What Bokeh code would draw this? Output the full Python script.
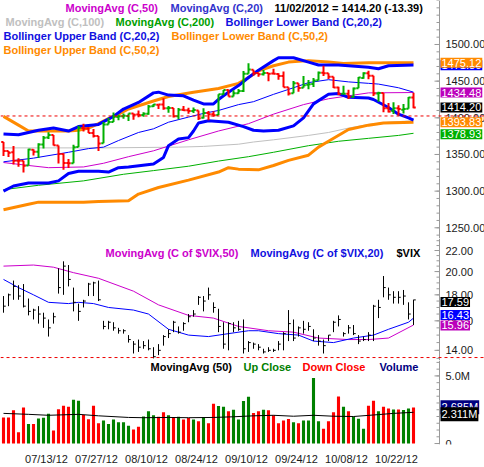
from bokeh.plotting import figure
from bokeh.layouts import column
from bokeh.models import Range1d, FixedTicker, Label, Span
from bokeh.core.properties import value
from bokeh.embed import file_html
from bokeh.resources import INLINE

# ---------------- data ----------------
prev_close = 1367.58
opens = [1367.09,1354.66,1352.96,1341.40,1341.40,1334.81,1356.50,1353.69,1363.46,1373.01,
         1376.51,1362.34,1350.52,1338.35,1338.17,1360.05,1385.94,1385.27,1379.32,1375.13,
         1365.45,1391.04,1394.46,1401.23,1402.26,1402.58,1405.87,1404.36,1403.89,1405.56,
         1415.84,1417.85,1418.13,1413.09,1413.49,1401.99,1411.13,1410.44,1409.32,1410.08,
         1400.07,1406.54,1404.94,1403.74,1432.12,1437.92,1429.13,1433.56,1436.56,1460.07,
         1465.42,1461.19,1459.50,1461.05,1460.34,1459.76,1456.94,1441.60,1433.36,1447.13,
         1440.90,1444.99,1446.05,1451.08,1461.40,1460.93,1455.90,1441.48,1432.82,1432.84,
         1428.75,1440.31,1454.22,1460.94,1457.34,1433.21,1433.74,1413.20,1409.74,1412.97,
         1410.99,1412.20,1427.59]
highs = [1367.10,1354.87,1361.54,1345.00,1341.40,1357.70,1357.26,1365.36,1375.26,1380.39,
         1376.51,1362.34,1351.53,1343.98,1363.13,1389.19,1391.74,1387.16,1384.87,1375.13,
         1394.16,1399.63,1407.14,1404.14,1405.95,1405.98,1405.87,1410.03,1407.73,1417.44,
         1418.71,1418.13,1426.68,1416.12,1413.49,1413.46,1416.17,1413.63,1413.95,1410.08,
         1413.09,1409.31,1408.81,1432.12,1437.92,1438.74,1437.76,1439.15,1463.76,1474.51,
         1465.63,1461.47,1465.15,1461.23,1467.07,1460.72,1463.24,1441.60,1450.20,1447.13,
         1457.14,1451.52,1454.30,1463.14,1470.96,1460.93,1455.90,1442.45,1443.90,1438.43,
         1441.31,1455.51,1462.20,1464.02,1457.34,1435.46,1433.74,1420.04,1421.13,1417.09,
         1418.76,1428.35,1434.27]
lows = [1348.03,1346.65,1336.30,1333.25,1325.41,1334.81,1348.51,1345.07,1358.04,1371.21,
        1362.19,1337.56,1329.24,1331.50,1338.17,1360.05,1381.37,1379.17,1373.07,1354.65,
        1365.45,1391.04,1394.46,1396.56,1398.80,1395.62,1397.32,1400.60,1401.56,1404.14,
        1414.68,1412.07,1410.86,1406.78,1400.50,1398.04,1409.13,1405.59,1406.63,1397.01,
        1398.96,1396.56,1401.30,1403.74,1431.54,1428.98,1429.13,1432.99,1435.31,1460.07,
        1457.55,1456.13,1457.88,1449.98,1459.51,1452.06,1441.58,1430.53,1433.36,1435.56,
        1440.90,1439.01,1441.99,1451.08,1456.89,1453.10,1440.81,1430.64,1432.82,1425.53,
        1427.24,1440.31,1453.33,1452.64,1429.85,1422.06,1407.56,1407.10,1405.14,1403.28,
        1405.95,1412.20,1412.91]
closes = [1354.68,1352.46,1341.47,1341.45,1334.76,1356.78,1353.64,1363.67,1372.78,1376.51,
          1362.66,1350.52,1338.31,1337.89,1360.02,1385.97,1385.30,1379.32,1375.14,1365.00,
          1390.99,1394.23,1401.35,1402.22,1402.80,1405.87,1404.11,1403.93,1405.53,1415.51,
          1418.16,1418.13,1413.17,1413.49,1402.08,1411.13,1410.44,1409.30,1410.49,1399.48,
          1406.58,1404.94,1403.44,1432.12,1437.92,1429.08,1433.56,1436.56,1459.99,1465.77,
          1461.19,1459.32,1461.05,1460.26,1460.15,1456.89,1441.59,1433.32,1447.15,1440.67,
          1444.49,1445.75,1450.99,1461.40,1460.93,1455.88,1441.48,1432.56,1432.84,1428.59,
          1440.13,1454.92,1460.91,1457.34,1433.19,1433.82,1413.11,1408.75,1412.97,1411.94,
          1412.16,1427.59,1414.20]

bb20u_i = [0,3,7,10,13,15,19,22,24,27,30,31,33,36,38,40,42,43,45,47,49,51,54,55,58,61,63,67,71,73,75,77,82]
bb20u_v = [1378,1377,1383,1386,1382,1388,1391,1402,1412,1421,1434,1435,1431,1430,1424,1419,1419,1425,1435,1444,1455,1465,1478,1482,1482,1476,1472,1472,1470,1469,1467,1471,1472]
bb20l_i = [0,2,5,9,11,13,15,19,21,23,25,30,32,33,35,37,38,39,41,45,48,50,52,55,58,60,62,65,67,69,73,74,77,79,81,82]
bb20l_v = [1300,1307,1311,1311,1314,1324,1327,1327,1326,1332,1333,1337,1346,1362,1371,1373,1382,1393,1396,1394,1388,1383,1382,1383,1389,1400,1419,1432,1433,1428,1427,1425,1414,1405,1400,1397]
ma20_i = [0,6,13,17,20,23,27,30,33,37,40,43,47,50,54,58,61,65,69,73,75,79,82]
ma20_v = [1340,1345,1353,1358,1360,1369,1380,1385,1394,1401,1406,1410,1418,1422,1432,1441,1448,1452,1449,1447,1446,1441,1435]
ma50_i = [0,5,9,16,20,25,30,37,43,49,54,60,65,69,73,82]
ma50_v = [1339,1335,1332,1333,1338,1347,1355,1370,1382,1392,1405,1418,1426,1430,1434,1434.5]
ma100_i = [0,20,35,40,47,50,54,61,65,69,73,77,82]
ma100_v = [1359,1359,1360,1361,1364,1367,1370,1376,1380,1386,1391,1394,1396]
ma200_i = [0,7,16,24,30,37,43,49,54,61,67,73,79,82]
ma200_v = [1302,1308,1314,1323,1328,1334,1341,1347,1353,1362,1368,1372,1376,1378.9]
bb50u_i = [0,3,5,13,15,17,19,21,23,25,30,33,38,43,47,49,51,54,57,61,65,68,73,82]
bb50u_v = [1402,1390,1382,1382,1383,1386,1392,1399,1405,1412,1423,1429,1435,1440,1447,1455,1464,1471,1476,1478,1476,1474,1475,1475.1]
bb50l_i = [0,5,7,16,19,25,27,31,37,43,45,47,51,54,57,61,63,65,69,73,76,82]
bb50l_v = [1274.5,1282,1285,1285,1286,1287,1296,1305,1315,1326,1332,1330,1329,1335,1342,1349,1360,1368,1384,1390,1393,1393.8]
support_level = 1402.5
price_ticks = [1250, 1300, 1350, 1400, 1450, 1500]
price_tick_labels = ["1250.00", "1300.00", "1350.00", "1400.00", "1450.00", "1500.00"]
price_last = [1471.80, 1475.12, 1434.48, 1414.20, 1393.83, 1378.93]
price_last_text = ["1471.80", "1475.12", "1434.48", "1414.20", "1393.83", "1378.93"]

vix_high = [17.9,18.1,19.2,18.8,18.9,17.7,16.9,17.1,16.6,16.1,
            16.6,20.3,20.95,20.6,18.6,17.3,17.6,19.0,19.1,19.2,
            16.0,16.0,15.9,15.5,15.4,15.0,14.6,14.7,14.6,14.7,
            14.2,14.4,15.0,15.4,16.0,15.6,15.9,16.5,16.8,17.9,
            17.9,18.6,17.4,16.9,15.9,15.9,15.9,16.0,16.1,14.6,
            14.5,14.4,14.1,14.2,14.1,14.6,15.2,16.8,16.1,15.6,
            16.0,15.9,15.4,15.0,14.7,15.0,16.0,16.4,15.2,15.7,
            15.7,15.0,14.9,15.2,17.2,17.6,19.6,18.6,18.3,18.3,
            18.4,17.4,17.6]
vix_low = [16.6,17.1,17.6,17.6,17.0,16.4,16.1,15.8,15.5,14.9,
           15.8,18.1,18.0,18.7,16.7,16.0,17.0,17.9,17.9,17.5,
           15.4,15.4,15.3,15.1,15.1,14.5,13.8,13.9,14.1,14.0,
           13.5,13.7,14.3,14.8,15.2,15.1,15.3,15.9,16.3,17.2,
           16.7,17.6,16.6,15.2,14.1,14.0,15.2,15.3,13.8,13.9,
           14.1,14.0,13.8,13.9,13.9,14.0,14.0,14.6,14.6,14.9,
           15.1,15.3,14.6,14.3,13.8,14.6,15.2,15.6,14.9,15.1,
           15.0,14.4,14.6,14.6,14.6,16.2,17.8,17.6,17.3,17.3,
           17.2,16.1,15.7]
vix_close = [17.1,18.0,18.7,17.9,17.1,16.7,16.8,16.5,16.2,15.5,
             16.3,18.6,20.5,19.3,17.4,16.7,17.5,18.9,19.0,17.6,
             15.6,15.9,15.5,15.3,15.3,14.7,14.4,14.2,14.3,14.1,
             13.6,14.0,14.9,15.1,15.9,15.2,15.8,16.3,16.5,17.8,
             17.5,18.0,17.0,15.6,14.4,15.8,15.5,15.4,14.1,14.5,
             14.4,14.2,13.9,14.0,14.0,14.4,15.1,15.8,14.8,15.5,
             15.4,15.6,14.8,14.6,14.3,15.0,15.9,16.1,15.1,15.5,
             15.1,14.6,14.7,15.0,17.1,17.0,18.6,18.0,17.8,17.8,
             17.9,16.5,17.59]
vix_ma50_i = [0,6,10,14,19,26,31,37,42,47,53,58,63,69,73,77,82]
vix_ma50_v = [20.5,20.6,20.4,19.9,19.4,18.3,17.2,16.4,16.2,15.6,15.3,15.2,14.8,14.7,14.7,14.8,15.7]
vix_ma20_i = [0,3,6,9,13,15,18,21,26,29,33,37,41,45,49,51,55,59,62,66,70,74,77,81,82]
vix_ma20_v = [19.3,18.6,18.0,17.4,17.3,17.4,17.3,17.0,16.8,16.5,15.4,15.0,14.9,15.1,15.3,15.3,15.1,15.0,14.6,14.5,14.8,15.0,15.4,15.9,16.2]
vix_level = 13.55
vix_ticks = [14, 16, 18, 20, 22]
vix_tick_labels = ["14.00", "16.00", "18.00", "20.00", "22.00"]
vix_last = [17.59, 16.43, 15.96]
vix_last_text = ["17.59", "16.43", "15.96"]

volume = [1.93,1.93,2.46,0.84,2.66,1.44,1.44,1.86,1.91,2.21,
          0.96,2.54,2.79,2.73,3.23,3.16,2.11,1.79,2.79,1.50,
          1.71,1.44,1.77,1.57,1.57,1.32,1.04,1.24,2.00,2.39,
          2.09,1.98,2.32,2.09,1.96,1.98,1.77,1.88,1.77,1.64,
          1.96,1.50,2.94,2.77,2.73,2.39,2.50,1.77,3.14,3.46,
          2.25,2.39,2.50,2.46,2.09,1.50,1.71,1.81,1.57,1.50,
          1.71,1.71,4.84,1.64,1.09,1.64,2.32,3.48,2.73,2.39,
          1.98,1.84,1.09,2.79,3.16,2.39,2.73,2.59,2.52,2.52,
          2.48,2.59,2.66]
vol_ma_i = [0,5,9,15,19,25,28,33,37,42,46,50,54,58,62,66,70,75,78,82]
vol_ma_v = [2.23,2.16,2.09,2.16,2.05,1.93,1.91,1.93,1.91,1.93,1.98,2.05,2.09,2.02,2.09,2.02,2.00,2.14,2.23,2.31]
vol_ticks = [0, 5]
vol_tick_labels = ["0", "5.0M"]
vol_last = [2.685, 2.311]
vol_last_text = ["2.685M", "2.311M"]

tick_idx = [5,15,25,35,45,55,65,75]
tick_labels = ["07/13/12","07/27/12","08/10/12","08/24/12","09/10/12","09/24/12","10/08/12","10/22/12"]

# ---------------- styling/layout ----------------
FONT = "Liberation Sans"
W = 484
PX_PER_BAR = 5.0
X0 = -0.6
X1 = X0 + W / PX_PER_BAR
AX = X0 + 439 / PX_PER_BAR        # right scale line position
LABEL_SHIFT = 3.6                 # date labels start at their tick
idx = list(range(len(closes)))
GREEN = "#00b000"
RED = "#ff0000"
BLUE = "#0000ff"
ORANGE = "#ff8a00"
MAGENTA = "#cc00cc"
AXIS_GRAY = "#999999"

up = [closes[0] >= prev_close] + [closes[k] >= closes[k - 1] for k in range(1, len(closes))]
bar_colors = [GREEN if u else RED for u in up]
vol_colors = ["#008000" if u else RED for u in up]


def make_fig(h, yr, ylog=False, bottom=False):
    p = figure(width=W, height=h, x_range=Range1d(X0, X1), y_range=yr,
               y_axis_type="log" if ylog else "linear", y_axis_location=None,
               x_axis_location="below" if bottom else None,
               output_backend="svg", toolbar_location=None,
               min_border_left=0, min_border_right=0, min_border_top=0, min_border_bottom=0)
    p.outline_line_color = None
    p.grid.visible = False
    return p


def scale(p, ticks, labels, minor):
    p.add_layout(Span(location=AX, dimension="height", line_color=AXIS_GRAY, line_width=1))
    p.segment(x0=[AX - 0.6] * len(minor), y0=minor, x1=[AX] * len(minor), y1=minor,
              line_color=AXIS_GRAY, line_width=1)
    p.segment(x0=[AX - 1.0] * len(ticks), y0=ticks, x1=[AX] * len(ticks), y1=ticks,
              line_color=AXIS_GRAY, line_width=1)
    p.text(x=[AX + 1.2] * len(ticks), y=ticks, text=labels, text_font=value(FONT),
           text_font_size="11px", text_color="#1a1a1a", text_baseline="middle", text_align="left")


def boxes(p, vals, texts, colors, offsets):
    for v, t, c, o in zip(vals, texts, colors, offsets):
        p.add_layout(Label(x=AX + 0.2, y=v, text=t, text_color="white", text_font=FONT,
                           text_font_size="11px", text_baseline="middle", text_align="left",
                           y_offset=o, background_fill_color=c, padding=1))


def legend(p, x, ypage, text, color, ftop, fh):
    p.add_layout(Label(x=x, y=fh - (ypage - ftop), x_units="screen", y_units="screen",
                       text=text, text_color=color, text_font=FONT, text_font_size="11px",
                       text_font_style="bold", text_baseline="middle", text_align="left"))


# ---------------- price panel ----------------
H1 = 238
p1 = make_fig(H1, Range1d(1235.4, 1560.0))
scale(p1, price_ticks, price_tick_labels, list(range(1240, 1561, 10)))

p1.line(ma100_i, ma100_v, line_color="#c0c0c0", line_width=1)
p1.line(ma200_i, ma200_v, line_color="#00b000", line_width=1)
p1.line(ma50_i, ma50_v, line_color=MAGENTA, line_width=1)
p1.line(ma20_i, ma20_v, line_color=BLUE, line_width=1)
p1.line(bb50u_i, bb50u_v, line_color=ORANGE, line_width=3)
p1.line(bb50l_i, bb50l_v, line_color=ORANGE, line_width=3)
p1.line(bb20u_i, bb20u_v, line_color=BLUE, line_width=3)
p1.line(bb20l_i, bb20l_v, line_color=BLUE, line_width=3)
p1.add_layout(Span(location=support_level, dimension="width", line_color="#ee0000",
                   line_dash="3 3", line_width=1))

p1.segment(x0=idx, y0=lows, x1=idx, y1=highs, line_color=bar_colors, line_width=2)
p1.segment(x0=[i - 0.45 for i in idx], y0=opens, x1=idx, y1=opens, line_color=bar_colors, line_width=2)
p1.segment(x0=idx, y0=closes, x1=[i + 0.45 for i in idx], y1=closes, line_color=bar_colors, line_width=2)

legend(p1, 65, 7, "MovingAvg (C,50)", MAGENTA, 0, H1)
legend(p1, 170, 7, "MovingAvg (C,20)", "#3333cc", 0, H1)
legend(p1, 274, 7, "11/02/2012 = 1414.20 (-13.39)", "#000000", 0, H1)
legend(p1, 5, 21, "MovingAvg (C,100)", "#c0c0c0", 0, H1)
legend(p1, 115, 21, "MovingAvg (C,200)", "#00a000", 0, H1)
legend(p1, 225, 21, "Bollinger Lower Band (C,20,2)", "#1010e0", 0, H1)
legend(p1, 3, 35, "Bollinger Upper Band (C,20,2)", "#1010e0", 0, H1)
legend(p1, 171, 35, "Bollinger Lower Band (C,50,2)", ORANGE, 0, H1)
legend(p1, 3, 49, "Bollinger Upper Band (C,50,2)", ORANGE, 0, H1)

boxes(p1, price_last, price_last_text,
      [BLUE, ORANGE, "#bb00bb", "#000000", ORANGE, "#00b000"],
      [0, 0, 0, 0, 0, -1])

# ---------------- VIX panel ----------------
T2 = 238
H2 = 122
p2 = make_fig(H2, Range1d(13.37, 23.23), ylog=True)
scale(p2, vix_ticks, vix_tick_labels, [13.5 + 0.5 * k for k in range(20)])
p2.line(vix_ma50_i, vix_ma50_v, line_color=MAGENTA, line_width=1)
p2.line(vix_ma20_i, vix_ma20_v, line_color=BLUE, line_width=1)
p2.add_layout(Span(location=vix_level, dimension="width", line_color="#ee0000",
                   line_dash="3 3", line_width=1))
p2.segment(x0=idx, y0=vix_low, x1=idx, y1=vix_high, line_color="black", line_width=1)
p2.segment(x0=idx, y0=vix_close, x1=[i + 0.45 for i in idx], y1=vix_close, line_color="black", line_width=1)

legend(p2, 105, 252, "MovingAvg (C of $VIX,50)", MAGENTA, T2, H2)
legend(p2, 250, 252, "MovingAvg (C of $VIX,20)", "#1010e0", T2, H2)
legend(p2, 396, 252, "$VIX", "#000000", T2, H2)
boxes(p2, vix_last, vix_last_text, ["#000000", BLUE, "#bb00bb"], [-2, 0, -4])

# ---------------- volume panel ----------------
T3 = 360
H3 = 107
FH3 = 91
p3 = make_fig(H3, Range1d(-0.07, 6.14), bottom=True)
scale(p3, vol_ticks, vol_tick_labels, [0.5 * k for k in range(13)])
p3.vbar(x=idx, top=volume, bottom=0, width=0.62, fill_color=vol_colors, line_color=None)
p3.line(vol_ma_i, vol_ma_v, line_color="black", line_width=1)

date_ticks = [t + LABEL_SHIFT for t in tick_idx]
xa = p3.xaxis[0]
xa.ticker = FixedTicker(ticks=date_ticks)
xa.major_label_overrides = {t: s for t, s in zip(date_ticks, tick_labels)}
xa.axis_line_color = None
xa.major_tick_line_color = None
xa.minor_tick_line_color = None
xa.major_label_text_font = FONT
xa.major_label_text_font_size = "11px"
xa.major_label_text_color = "#1a1a1a"
xa.major_label_standoff = 2

legend(p3, 150, 373, "MovingAvg (50)", "#000000", T3, FH3)
legend(p3, 243, 373, "Up Close", "#008000", T3, FH3)
legend(p3, 302, 373, "Down Close", "#ff0000", T3, FH3)
legend(p3, 379, 373, "Volume", "#000080", T3, FH3)
boxes(p3, vol_last, vol_last_text, ["#000080", "#000000"], [0, -2])

layout = column(p1, p2, p3, spacing=0)
open("out.html", "w").write(file_html(layout, INLINE))
